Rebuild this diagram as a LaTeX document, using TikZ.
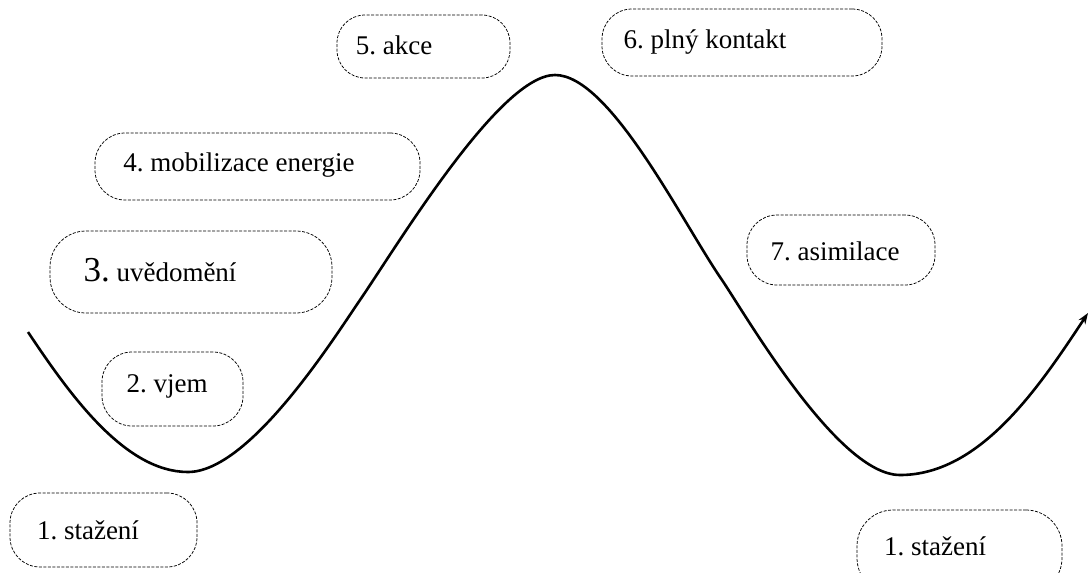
\documentclass[tikz,border=0pt]{standalone}
\usepackage{fontspec}
\setmainfont{Liberation Serif}[Numbers=Lining]
\frenchspacing
\usetikzlibrary{arrows.meta}
\begin{document}
\begin{tikzpicture}[x=1pt,y=-1pt,
  stagebox/.style={draw, line width=0.75pt, dash pattern=on 3pt off 1.5pt, rounded corners=30pt, inner sep=0pt},
  stagetext/.style={inner sep=0pt, font=\rmfamily\fontsize{27}{32}\selectfont, anchor=center},
  curve/.style={line width=2.6pt, -{Stealth[length=11pt,width=8pt]}}]
\useasboundingbox (0,0) rectangle (1090,573);
\clip (0,0) rectangle (1090,573);
% boxes
\node[stagebox, minimum width=187pt, minimum height=74pt] (b1l) at (103.5,530) {};
\node[stagebox, minimum width=141pt, minimum height=74pt] (b2) at (172.5,389) {};
\node[stagebox, minimum width=282pt, minimum height=82pt, rounded corners=36pt] (b3) at (191,272) {};
\node[stagebox, minimum width=325pt, minimum height=67pt] (b4) at (257.5,166.5) {};
\node[stagebox, minimum width=173pt, minimum height=63pt, rounded corners=28pt] (b5) at (423.5,46.5) {};
\node[stagebox, minimum width=280pt, minimum height=67pt] (b6) at (742,42.5) {};
\node[stagebox, minimum width=188pt, minimum height=70pt] (b7) at (841,250) {};
\node[stagebox, minimum width=205pt, minimum height=84pt, rounded corners=36pt] (b1r) at (959.5,552) {};
% texts
\node[stagetext] (t1l) at (88,530) {\hbox{}1. stažení};
\node[stagetext] (t2) at (167,386) {\hbox{}2. vjem};
\node[stagetext] (t3) at (160,270) {\hbox{}{\fontsize{35}{38}\selectfont\hbox{}3.} uvědomění};
\node[stagetext] (t4) at (239,165) {\hbox{}4. mobilizace energie};
\node[stagetext] (t5) at (394,45) {\hbox{}5. akce};
\node[stagetext] (t6) at (705,42) {\hbox{}6. plný kontakt};
\node[stagetext] (t7) at (835,251) {\hbox{}7. asimilace};
\node[stagetext] (t1r) at (935,546) {\hbox{}1. stažení};
% curve
\coordinate (s) at (28,332);
\coordinate (m1) at (188,472);
\coordinate (i1) at (360,300);
\coordinate (pk) at (555,75);
\coordinate (i2) at (722,280);
\coordinate (m2) at (900,475);
\coordinate (e) at (1088,313);
\draw[curve] (s) .. controls (70,395) and (125,472) .. (m1)
  .. controls (250,472) and (334.6,337) .. (i1)
  .. controls (399.6,242) and (500,75) .. (pk)
  .. controls (610,75) and (682,222) .. (i2)
  .. controls (747,317) and (838,475) .. (m2)
  .. controls (980,475) and (1038.5,388) .. (e);
\end{tikzpicture}
\end{document}
